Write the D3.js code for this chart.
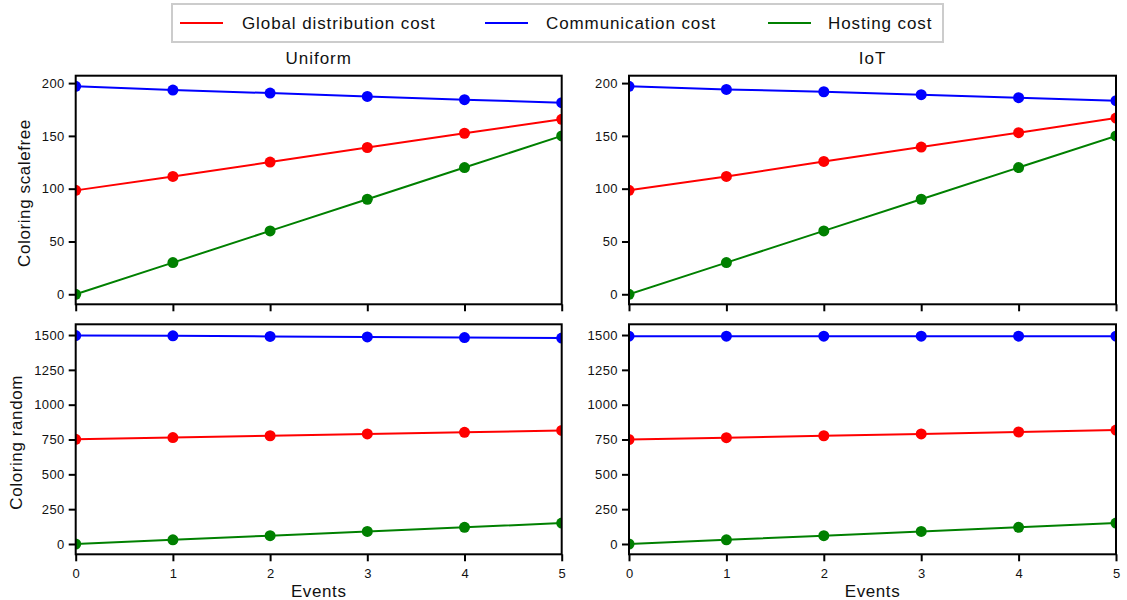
<!DOCTYPE html>
<html><head><meta charset="utf-8">
<script src="https://cdn.jsdelivr.net/npm/d3@7"></script>
<style>
body{margin:0;background:#fff;}
text{font-family:"Liberation Sans",Arial,sans-serif;fill:#111;}
</style></head>
<body><svg id="c" width="1127" height="600"></svg>
<script>
const events = [0,1,2,3,4,5];
const seriesNames = ["Global distribution cost","Communication cost","Hosting cost"];
const seriesColors = ["#ff0000","#0000ff","#008000"];
const colTitles = ["Uniform","IoT"];
const rowTitles = ["Coloring  scalefree","Coloring  random"];
const xTicks = [0,1,2,3,4,5];
const yTicksScalefree = [0,50,100,150,200];
const yTicksRandom = [0,250,500,750,1000,1250,1500];

const uniformScalefreeGlobal = [98.4,111.6,125.2,139.0,152.5,165.7];
const uniformScalefreeComm = [196.9,193.4,190.5,187.4,184.3,181.4];
const uniformScalefreeHosting = [0,30,60,90,120,150];
const iotScalefreeGlobal = [98.4,111.6,125.8,139.4,153.0,166.9];
const iotScalefreeComm = [196.9,194.0,191.8,189.0,186.2,183.3];
const iotScalefreeHosting = [0,30,60,90,120,150];
const uniformRandomGlobal = [751,764,777,790,802,815];
const uniformRandomComm = [1496,1494,1490,1486,1482,1478];
const uniformRandomHosting = [0,30,60,90,120,150];
const iotRandomGlobal = [750,763,777,790,804,818];
const iotRandomComm = [1492,1492,1492,1492,1492,1492];
const iotRandomHosting = [0,30,60,90,120,150];

const panelData = [
  [[uniformScalefreeGlobal,uniformScalefreeComm,uniformScalefreeHosting],[iotScalefreeGlobal,iotScalefreeComm,iotScalefreeHosting]],
  [[uniformRandomGlobal,uniformRandomComm,uniformRandomHosting],[iotRandomGlobal,iotRandomComm,iotRandomHosting]]
];
const yDomains = [[-9.5,207],[-74,1577]];
const yTickSets = [yTicksScalefree, yTicksRandom];

const colX = [[75.7,561.7],[629,1116]];
const rowY = [[75.7,304.3],[324.3,554.3]];
const yLabelX = [30,22];

const svg = d3.select("#c");

// legend
const lg = svg.append("g");
lg.append("rect").attr("x",172).attr("y",4).attr("width",771).attr("height",38)
  .attr("fill","#fff").attr("stroke","#cccccc").attr("stroke-width",2);
const legLineX = [180,485,768];
const legTextX = [242,546,828];
seriesNames.forEach((n,i)=>{
  lg.append("line").attr("x1",legLineX[i]).attr("x2",legLineX[i]+43).attr("y1",23).attr("y2",23)
    .attr("stroke",seriesColors[i]).attr("stroke-width",2);
  lg.append("text").attr("x",legTextX[i]).attr("y",29).attr("font-size",17).attr("letter-spacing",0.9).text(n);
});

for(let r=0;r<2;r++){
  for(let c=0;c<2;c++){
    const x = d3.scaleLinear().domain([0,5]).range(colX[c]);
    const y = d3.scaleLinear().domain(yDomains[r]).range([rowY[r][1],rowY[r][0]]);
    const g = svg.append("g");
    const cid = `clip${r}${c}`;
    g.append("clipPath").attr("id",cid).append("rect")
      .attr("x",colX[c][0]).attr("y",rowY[r][0])
      .attr("width",colX[c][1]-colX[c][0]).attr("height",rowY[r][1]-rowY[r][0]);
    const dg = g.append("g").attr("clip-path",`url(#${cid})`);
    panelData[r][c].forEach((vals,i)=>{
      const pts = events.map((e,k)=>[e,vals[k]]);
      dg.append("path").datum(pts)
        .attr("d",d3.line().x(d=>x(d[0])).y(d=>y(d[1])))
        .attr("fill","none").attr("stroke",seriesColors[i]).attr("stroke-width",2);
      dg.selectAll(null).data(pts).enter().append("circle")
        .attr("cx",d=>x(d[0])).attr("cy",d=>y(d[1])).attr("r",5.5).attr("fill",seriesColors[i]);
    });
    // axes
    const ya = g.append("g").attr("transform",`translate(${colX[c][0]},0)`)
      .call(d3.axisLeft(y).tickValues(yTickSets[r]).tickSize(7).tickPadding(4).tickFormat(d3.format("d")));
    ya.select(".domain").remove();
    ya.selectAll(".tick line").attr("stroke","#000").attr("stroke-width",2);
    ya.selectAll(".tick text").attr("font-size",13).attr("font-family","Liberation Sans, Arial, sans-serif").attr("fill","#111").attr("letter-spacing",0.4);
    const xa = g.append("g").attr("transform",`translate(0,${rowY[r][1]})`)
      .call(d3.axisBottom(x).tickValues(xTicks).tickSize(7).tickPadding(7).tickFormat(r===1?d3.format("d"):()=>""));
    xa.select(".domain").remove();
    xa.selectAll(".tick line").attr("stroke","#000").attr("stroke-width",2);
    xa.selectAll(".tick text").attr("font-size",13).attr("font-family","Liberation Sans, Arial, sans-serif").attr("fill","#111");
    // frame
    g.append("rect").attr("x",colX[c][0]).attr("y",rowY[r][0])
      .attr("width",colX[c][1]-colX[c][0]).attr("height",rowY[r][1]-rowY[r][0])
      .attr("fill","none").attr("stroke","#000").attr("stroke-width",2);
    if(r===0){
      svg.append("text").attr("x",(colX[c][0]+colX[c][1])/2).attr("y",64)
        .attr("text-anchor","middle").attr("font-size",17).attr("letter-spacing",1).text(colTitles[c]);
    }
    if(r===1){
      svg.append("text").attr("x",(colX[c][0]+colX[c][1])/2).attr("y",597)
        .attr("text-anchor","middle").attr("font-size",17).attr("letter-spacing",0.6).text("Events");
    }
    if(c===0){
      const cy = (rowY[r][0]+rowY[r][1])/2 + 3;
      svg.append("text").attr("transform",`translate(${yLabelX[r]},${cy}) rotate(-90)`)
        .attr("text-anchor","middle").attr("font-size",17).attr("letter-spacing",0.6).text(rowTitles[r]);
    }
  }
}
</script></body></html>
